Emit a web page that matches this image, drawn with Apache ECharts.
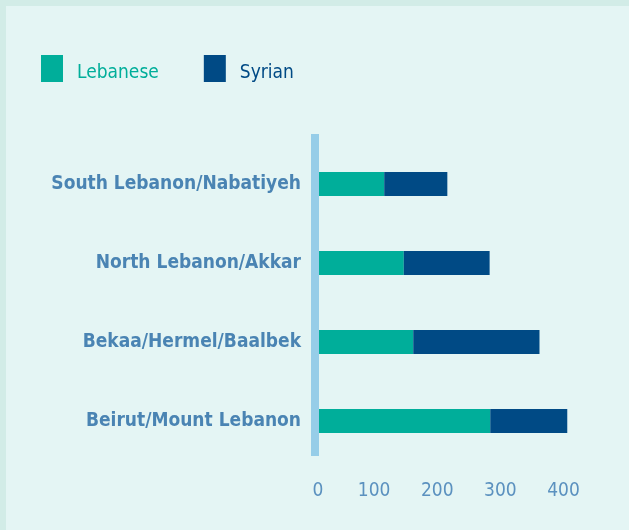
<!DOCTYPE html>
<html>
<head>
<meta charset="utf-8">
<script src="https://cdn.jsdelivr.net/npm/echarts@6/dist/echarts.min.js"></script>
<style>
html,body{margin:0;padding:0;background:#e4f5f4;}
#chart{width:629px;height:530px;}
</style>
</head>
<body>
<div id="chart"></div>
<script>
// Data (categories listed bottom to top)
const categories = ["Beirut/Mount Lebanon", "Bekaa/Hermel/Baalbek", "North Lebanon/Akkar", "South Lebanon/Nabatiyeh"];
const lebanese = [284, 162, 147, 116];
const syrian = [122, 200, 136, 100];
const seriesNames = ["Lebanese", "Syrian"];
const xTicks = [0, 100, 200, 300, 400];

const FONT = "'DejaVu Sans Condensed', 'DejaVu Sans', sans-serif";
const chart = echarts.init(document.getElementById('chart'), null, {renderer: 'canvas'});
chart.setOption({
  backgroundColor: '#e4f5f4',
  animation: false,
  graphic: [
    {type: 'rect', shape: {x: 0, y: 0, width: 629, height: 6}, style: {fill: '#d2ece7'}, z: -1},
    {type: 'rect', shape: {x: 0, y: 0, width: 6, height: 530}, style: {fill: '#d2ece7'}, z: -1}
  ],
  legend: {
    left: 41, top: 55, padding: 0,
    itemWidth: 22, itemHeight: 27, itemGap: 45,
    icon: 'rect',
    formatter: name => '{' + (name === seriesNames[0] ? 'a' : 'b') + '|' + name + '}',
    data: seriesNames,
    textStyle: {
      fontFamily: FONT, fontSize: 19, padding: [0, 0, 0, 9],
      rich: {
        a: {color: '#00ae9a', fontFamily: FONT, fontSize: 19, padding: [10, 0, 0, 0]},
        b: {color: '#004a85', fontFamily: FONT, fontSize: 19, padding: [10, 0, 0, 0]}
      }
    }
  },
  grid: [
    {left: 311, right: 52.9, top: 144.5, bottom: 69.5, outerBoundsMode: 'none', containLabel: false},
    {left: 315, top: 134, height: 322, width: 10, outerBoundsMode: 'none', containLabel: false}
  ],
  xAxis: [
    {
      type: 'value', min: xTicks[0], max: 420, interval: 100,
      axisLine: {show: false}, axisTick: {show: false}, splitLine: {show: false},
      axisLabel: {
        color: '#5b91bf', fontFamily: FONT, fontSize: 19, margin: 21, showMaxLabel: false,
        formatter: v => v === 0 ? '{z|0}' : (xTicks.indexOf(v) >= 0 ? String(v) : ''),
        rich: {z: {padding: [0, 0, 0, 14], color: '#5b91bf', fontFamily: FONT, fontSize: 19}}
      }
    },
    {gridIndex: 1, type: 'value', show: false}
  ],
  yAxis: [
    {
      type: 'category', data: categories,
      axisLine: {show: false}, axisTick: {show: false},
      axisLabel: {color: '#4a84b3', fontFamily: FONT, fontWeight: 'bold', fontSize: 19, margin: 10}
    },
    {
      gridIndex: 1, type: 'value', z: 5,
      axisLine: {show: true, lineStyle: {color: '#96cde8', width: 8, cap: 'butt'}},
      axisTick: {show: false}, axisLabel: {show: false}, splitLine: {show: false}
    }
  ],
  series: [
    {name: seriesNames[0], type: 'bar', stack: 'total', data: lebanese, barWidth: 24, itemStyle: {color: '#00ae9a'}},
    {name: seriesNames[1], type: 'bar', stack: 'total', data: syrian, barWidth: 24, itemStyle: {color: '#004a85'}}
  ]
});
</script>
</body>
</html>
